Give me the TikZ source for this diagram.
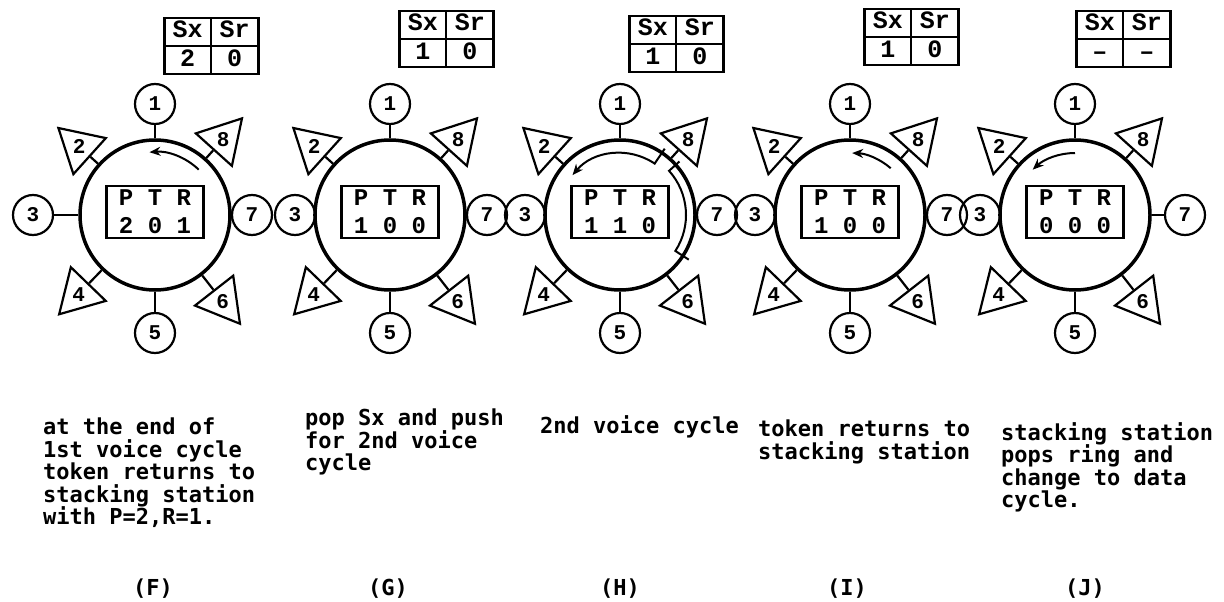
\documentclass[tikz,border=0pt]{standalone}
\usepackage{fontspec}
\newfontfamily\typefont{Liberation Mono}
\newfontfamily\gothicfont{DejaVu Sans Mono}
\usetikzlibrary{arrows.meta,positioning,shapes.geometric}

% one cell of the Sx/Sr stack
\newcommand\cell[1]{\makebox[47pt]{\rule[-7pt]{0pt}{26pt}#1}}
\newcommand\stacktab[2]{%
  \setlength\tabcolsep{0pt}\setlength\arrayrulewidth{2pt}%
  \begin{tabular}{c|c}
    \cell{Sx} & \cell{Sr}\\\hline
    \cell{#1} & \cell{#2}
  \end{tabular}}

\tikzset{
    ring/.style={circle,draw,line width=3.5pt,minimum size=150pt,inner sep=0pt},
    stn/.style={
        circle,draw,line width=2.2pt,minimum size=40pt,inner sep=0pt,
        font=\typefont\bfseries\fontsize{21}{21}\selectfont
    },
    tri/.style={
        regular polygon,regular polygon sides=3,shape border rotate=#1,
        draw,line width=2.2pt,minimum size=56pt,inner sep=0pt,
        font=\typefont\bfseries\fontsize{21}{21}\selectfont
    },
    ptr/.style={
        draw,line width=2.5pt,minimum width=97pt,minimum height=52pt,
        inner sep=0pt,align=center,
        font=\typefont\bfseries\fontsize{24}{28}\selectfont
    },
    stack/.style={
        draw,line width=2.5pt,inner sep=0pt,anchor=north west,
        font=\typefont\bfseries\fontsize{25}{26}\selectfont
    },
    stem/.style={line width=2.2pt},
    token/.style={line width=2pt,-{Stealth[length=11pt,width=9pt]}},
    note/.style={
        anchor=north west,align=left,inner sep=0pt,
        font=\gothicfont\bfseries\fontsize{22}{22.5}\selectfont
    },
    tag/.style={inner sep=0pt,font=\gothicfont\bfseries\fontsize{22}{22}\selectfont}
}

\begin{document}
\begin{tikzpicture}[x=1pt,y=1pt]
\useasboundingbox (0,0) rectangle (1224,-602);

% rings F..J: centre, P T R, Sx, Sr, stations 3 and 7, stack corner
\foreach \k/\x/\pp/\sx/\sr/\a/\b/\tx/\ty in {
    F/155/2 0 1/2/0/-122/97/8/-17,
    G/390/1 0 0/1/0/-95/97/8/-10,
    H/620/1 1 0/1/0/-95/97/8/-15,
    I/850/1 0 0/1/0/-95/97/13/-8,
    J/1075/0 0 0/\textendash/\textendash/-95/110/0/-10}{
  \node[ring] (\k) at (\x,-215) {};
  \node[ptr] (ptr\k) at (\x,-212) {P T R\\\pp};
  \node[stack] (sx\k) at (\x+\tx,\ty) {\stacktab{\sx}{\sr}};
  \node[stn] (\k1) at (\x,-104) {1};
  \node[stn] (\k5) at (\x,-333) {5};
  \node[stn] (\k3) at (\x+\a,-215) {3};
  \node[stn] (\k7) at (\x+\b,-215) {7};
  \node[tri=48] (\k2) at ([shift={(138:102)}]\k.center) {2};
  \node[tri=-42] (\k8) at ([shift={(48:102)}]\k.center) {8};
  \node[tri=136] (\k4) at ([shift={(226:110)}]\k.center) {4};
  \node[tri=218] (\k6) at ([shift={(308:110)}]\k.center) {6};
  \foreach \n in {1,...,8}
    \draw[stem] (\k) -- (\k\n);
}

% token travelling round each ring
\draw[token] ([shift={(46:63)}]F.center) arc[start angle=46,end angle=95,radius=63];
\draw[token] ([shift={(56:80)}]H.center) -- ([shift={(56:62)}]H.center)
    arc[start angle=56,end angle=140,radius=62];
\draw[line width=2pt] ([shift={(42:80)}]H.center) -- ([shift={(42:66)}]H.center)
    arc[start angle=42,end angle=-33,radius=66] -- ([shift={(-33:82)}]H.center);
\draw[token] ([shift={(49:62)}]I.center) arc[start angle=49,end angle=88,radius=62];
\draw[token] ([shift={(90:62)}]J.center) arc[start angle=90,end angle=133,radius=62];

% what happens in each step
\node[note] (noteF) at (43,-418)
  {at the end of\\1st voice cycle\\token returns to\\stacking station\\with P=2,R=1.};
\node[note] (noteG) at (305,-409) {pop Sx and push\\for 2nd voice\\cycle};
\node[note] (noteH) at (540,-415) {2nd voice cycle};
\node[note] (noteI) at (758,-420) {token returns to\\stacking station};
\node[note] (noteJ) at (1001,-422)
  {stacking station\\pops ring and\\change to data\\cycle.};

\node[tag] (tagF) at (153,-589) {(F)};
\node[tag] (tagG) at (388,-589) {(G)};
\node[tag] (tagH) at (620,-589) {(H)};
\node[tag] (tagI) at (847,-589) {(I)};
\node[tag] (tagJ) at (1085,-589) {(J)};

\end{tikzpicture}
\end{document}
